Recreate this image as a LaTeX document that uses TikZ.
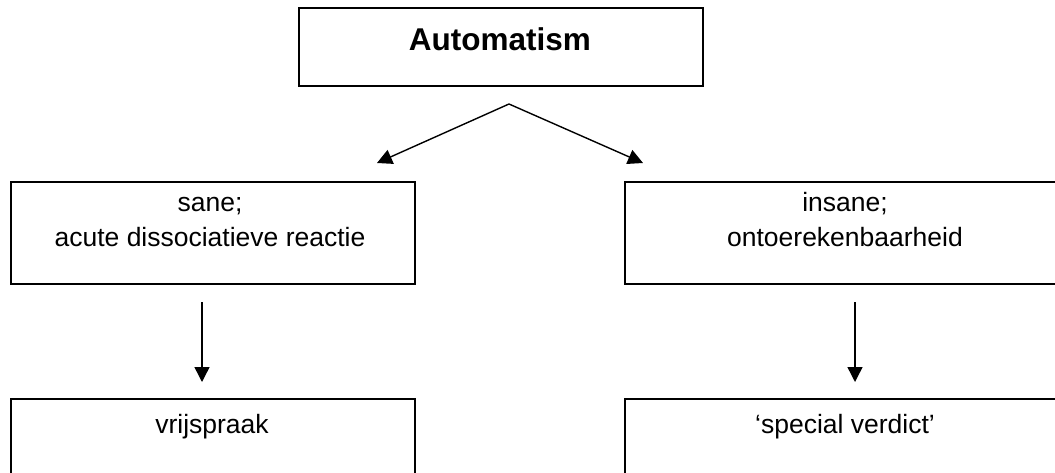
\documentclass[tikz,border=0pt]{standalone}
\usepackage{fontspec}
\setmainfont{Liberation Sans}
\usetikzlibrary{arrows.meta}
\begin{document}
\begin{tikzpicture}[x=1pt,y=-1pt,
  box/.style={draw=black, line width=1.5pt, inner sep=0pt, anchor=north west},
  lbl/.style={anchor=base, inner sep=0pt, font=\fontsize{26.5}{34}\selectfont},
  conn/.style={line width=1.4pt, -{Triangle[length=15pt,width=15pt]}}]
\useasboundingbox (0,0) rectangle (1055,472);
\clip (0,0) rectangle (1055,472);
% boxes
\node[box, minimum width=404pt, minimum height=78pt] (top) at (298,7) {};
\node[box, minimum width=404pt, minimum height=102pt] (sane) at (10,181) {};
\node[box, minimum width=442pt, minimum height=102pt] (insane) at (624,181) {};
\node[box, minimum width=404pt, minimum height=110pt] (vrij) at (10,398) {};
\node[box, minimum width=442pt, minimum height=110pt] (special) at (624,398) {};
% texts
\node[lbl, font=\bfseries\fontsize{31.5}{38}\selectfont] (ttop) at (500,50) {Automatism};
\node[lbl] (tsane1) at (210,211) {sane;};
\node[lbl] (tsane2) at (210,246) {acute dissociatieve reactie};
\node[lbl] (tins1) at (845,211) {insane;};
\node[lbl] (tins2) at (845,246) {ontoerekenbaarheid};
\node[lbl] (tvrij) at (212,433) {vrijspraak};
\node[lbl] (tspec) at (845,433) {‘special verdict’};
% connectors
\coordinate (apex) at (509,104);
\coordinate (tipL) at (377,163);
\coordinate (tipR) at (643,163);
\coordinate (dLa) at (202,302);
\coordinate (dLb) at (202,382);
\coordinate (dRa) at (855,302);
\coordinate (dRb) at (855,382);
\draw[conn] (apex) -- (tipL);
\draw[conn] (apex) -- (tipR);
\draw[conn] (dLa) -- (dLb);
\draw[conn] (dRa) -- (dRb);
\end{tikzpicture}
\end{document}
